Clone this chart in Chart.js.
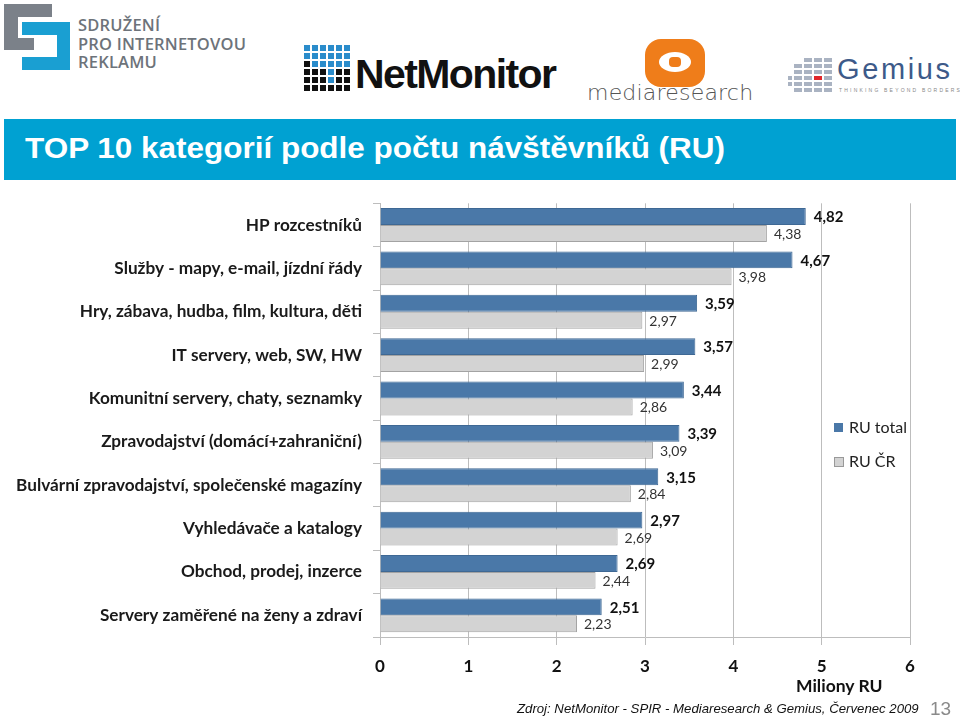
<!DOCTYPE html>
<html>
<head>
<meta charset="utf-8">
<script src="https://cdn.jsdelivr.net/npm/chart.js@4.4.0/dist/chart.umd.min.js"></script>
<style>
  html, body { margin: 0; padding: 0; background: #fff; }
  body { width: 960px; height: 719px; position: relative; overflow: hidden; font-family: "Liberation Sans", Arial, sans-serif; }
  .abs { position: absolute; }
  #chartBox { position: absolute; left: 0; top: 182px; width: 960px; height: 518px; }
  .titleBar { left: 4px; top: 119px; width: 952px; height: 61px; background: #00a1d2; }
  .titleBar span { position: absolute; left: 21px; top: 13px; color: #fff; font-size: 29px; font-weight: bold; white-space: nowrap; transform-origin: 0 0; }
  .legend { font-family: Lato, "Open Sans", sans-serif; font-size: 16px; color: #222; }
  .legend i { position: absolute; width: 9px; height: 9px; }
</style>
</head>
<body>

<!-- loga (hrube priblizeni) -->
<div class="abs" style="left:4px;top:4px;width:48px;height:13px;background:#7b8189;"></div>
<div class="abs" style="left:4px;top:4px;width:14px;height:46px;background:#7b8189;"></div>
<div class="abs" style="left:4px;top:38px;width:30px;height:12px;background:#7b8189;"></div>
<div class="abs" style="left:22px;top:22px;width:48px;height:13px;background:#1a9fd2;"></div>
<div class="abs" style="left:57px;top:22px;width:13px;height:48px;background:#1a9fd2;"></div>
<div class="abs" style="left:22px;top:57px;width:48px;height:13px;background:#1a9fd2;"></div>
<div class="abs" style="left:78px;top:16px;color:#6d737a;font-family:'Open Sans',sans-serif;font-weight:600;font-size:16.5px;line-height:18.5px;letter-spacing:0.2px;">SDRUŽENÍ<br>PRO INTERNETOVOU<br>REKLAMU</div>

<div class="abs" id="nmGrid" style="left:304px;top:45px;width:46px;height:46px;"></div>
<div class="abs" style="left:355px;top:51px;color:#111;font-family:'Liberation Sans',Arial,sans-serif;font-weight:bold;font-size:41px;letter-spacing:-1.6px;">NetMonitor</div>

<div class="abs" style="left:645px;top:39px;width:60px;height:48px;background:#ef7d1a;border-radius:16px;"></div>
<div class="abs" style="left:659px;top:52px;width:32px;height:20px;background:#fff;border-radius:50%;"></div>
<div class="abs" style="left:669px;top:57px;width:12px;height:10px;background:#ef7d1a;border-radius:4px;"></div>
<div class="abs" style="left:587px;top:80px;color:#555;font-family:'DejaVu Sans',sans-serif;font-weight:200;font-size:22px;letter-spacing:0.2px;">mediaresearch</div>

<div class="abs" id="gmGrid" style="left:784px;top:58px;width:50px;height:34px;"></div>
<div class="abs" style="left:837px;top:53px;color:#3d5a89;font-family:'Liberation Sans',Arial,sans-serif;font-size:29px;letter-spacing:2.6px;">Gemius</div>
<div class="abs" style="left:839px;top:87px;color:#888;font-family:'Liberation Sans',Arial,sans-serif;font-size:5px;letter-spacing:2.2px;white-space:nowrap;">THINKING BEYOND BORDERS</div>

<div class="abs titleBar"><span id="titleText">TOP 10 kategorií podle počtu návštěvníků (RU)</span></div>

<div id="chartBox"><canvas id="chart"></canvas></div>

<div class="abs legend" style="left:834px;top:417px;">
  <i style="left:0;top:6px;background:#4a78a8;"></i><span style="position:absolute;left:15px;top:0;white-space:nowrap;">RU total</span>
</div>
<div class="abs legend" style="left:834px;top:451px;">
  <i style="left:0;top:6px;background:#d3d3d3;border:1px solid #999;width:8px;height:8px;"></i><span style="position:absolute;left:15px;top:0;white-space:nowrap;">RU ČR</span>
</div>

<div class="abs" style="left:796px;top:675px;font-family:Lato,'Open Sans',sans-serif;font-weight:bold;font-size:17.5px;color:#111;">Miliony RU</div>
<div class="abs" style="left:517px;top:701px;font-family:'Liberation Sans',Arial,sans-serif;font-style:italic;font-size:13.2px;color:#111;white-space:nowrap;">Zdroj: NetMonitor - SPIR - Mediaresearch &amp; Gemius, Červenec 2009</div>
<div class="abs" style="left:930px;top:698px;font-family:'Liberation Sans',Arial,sans-serif;font-size:19px;color:#8a8a8a;">13</div>

<script>
// kategorie (odshora dolu)
const categories = [
    'HP rozcestníků',
    'Služby - mapy, e-mail, jízdní řády',
    'Hry, zábava, hudba, film, kultura, děti',
    'IT servery, web, SW, HW',
    'Komunitní servery, chaty, seznamky',
    'Zpravodajství (domácí+zahraniční)',
    'Bulvární zpravodajství, společenské magazíny',
    'Vyhledávače a katalogy',
    'Obchod, prodej, inzerce',
    'Servery zaměřené na ženy a zdraví'
];
const ruTotal = [4.82, 4.67, 3.59, 3.57, 3.44, 3.39, 3.15, 2.97, 2.69, 2.51];
const ruCR = [4.38, 3.98, 2.97, 2.99, 2.86, 3.09, 2.84, 2.69, 2.44, 2.23];
const xTicks = [0, 1, 2, 3, 4, 5, 6];

// nadpis natahnout na sirku jako v originale
(function () {
    const t = document.getElementById('titleText');
    const w = t.getBoundingClientRect().width;
    t.style.transform = `scaleX(${700 / w})`;
})();

// mrizky v logach
(function () {
    const nm = document.getElementById('nmGrid');
    for (let r = 0; r < 6; r++) {
        for (let c = 0; c < 6; c++) {
            const d = document.createElement('div');
            d.style.cssText = `position:absolute;left:${c * 8}px;top:${r * 8}px;width:6px;height:6px;background:${(r < 3 && !(r === 2 && c === 0)) || (c === 3 && r < 5) ? '#2a8ccb' : '#111'}`;
            nm.appendChild(d);
        }
    }
    const gm = document.getElementById('gmGrid');
    const cols = [[3, 4], [1, 5], [0, 5], [0, 5], [0, 5]];
    cols.forEach(([a, b], c) => {
        for (let r = a; r <= b; r++) {
            const d = document.createElement('div');
            const red = c === 3 && r === 3;
            d.style.cssText = `position:absolute;left:${c * 10 + (c === 0 ? 4 : 0)}px;top:${r * 6}px;width:${c === 0 ? 4 : 8}px;height:4px;background:${red ? '#e0262a' : '#aab3c2'}`;
            gm.appendChild(d);
        }
    });
})();

const fmt = v => v.toFixed(2).replace('.', ',');

// popisky hodnot za koncem sloupcu
const valueLabels = {
    id: 'valueLabels',
    afterDatasetsDraw(chart) {
        const ctx = chart.ctx;
        ctx.save();
        ctx.textBaseline = 'middle';
        ctx.textAlign = 'left';
        chart.data.datasets.forEach((ds, i) => {
            const meta = chart.getDatasetMeta(i);
            ctx.font = i === 0 ? 'bold 15px Lato, "Open Sans", sans-serif' : '14px Lato, "Open Sans", sans-serif';
            ctx.fillStyle = i === 0 ? '#111' : '#333';
            meta.data.forEach((bar, j) => {
                ctx.fillText(fmt(ds.data[j]), bar.x + (i === 0 ? 8 : 7), bar.y + 1);
            });
        });
        ctx.restore();
    }
};

new Chart(document.getElementById('chart'), {
    type: 'bar',
    data: {
        labels: categories,
        datasets: [
            {
                label: 'RU total',
                data: ruTotal,
                backgroundColor: '#4a78a8',
                borderColor: '#3e6894',
                borderWidth: 1,
                categoryPercentage: 0.78,
                barPercentage: 1.0
            },
            {
                label: 'RU ČR',
                data: ruCR,
                backgroundColor: '#d3d3d3',
                borderColor: '#a3a3a3',
                borderWidth: 1,
                categoryPercentage: 0.78,
                barPercentage: 1.0
            }
        ]
    },
    options: {
        indexAxis: 'y',
        responsive: true,
        maintainAspectRatio: false,
        animation: false,
        layout: { padding: { top: 6, right: 50, left: 0, bottom: 0 } },
        plugins: {
            legend: { display: false },
            tooltip: { enabled: false }
        },
        scales: {
            x: {
                min: 0,
                max: 6,
                afterBuildTicks: scale => { scale.ticks = xTicks.map(v => ({ value: v })); },
                afterFit: scale => { scale.height = 63; },
                grid: { color: '#bdbdbd', lineWidth: 1, tickLength: 8, tickColor: '#bdbdbd' },
                border: { display: true, color: '#bdbdbd' },
                ticks: {
                    padding: 11,
                    color: '#111',
                    font: { family: 'Lato, "Open Sans", sans-serif', size: 17, weight: 'bold' }
                }
            },
            y: {
                afterFit: scale => { scale.width = 380; },
                grid: { drawOnChartArea: false, offset: true, tickLength: 7, tickColor: '#bdbdbd' },
                border: { display: true, color: '#bdbdbd' },
                ticks: {
                    padding: 11,
                    color: '#1a1a1a',
                    font: { family: 'Lato, "Open Sans", sans-serif', size: 17.2, weight: 'bold' }
                }
            }
        }
    },
    plugins: [valueLabels]
});
</script>
</body>
</html>
